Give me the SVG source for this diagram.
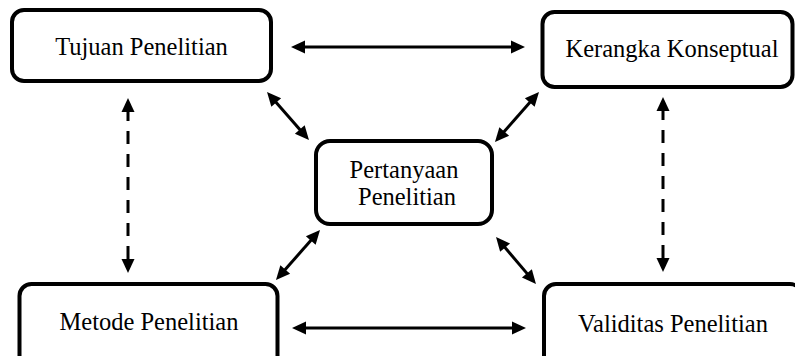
<svg xmlns="http://www.w3.org/2000/svg" width="795" height="356" viewBox="0 0 795 356">
  <style>
    .box { fill: #ffffff; stroke: #000000; stroke-width: 4; }
    .lbl { font-family: 'Liberation Serif', 'Times New Roman', Times, 'DejaVu Serif', serif; font-size: 24.5px; fill: #000000; text-anchor: middle; }
    .conn { stroke: #000000; stroke-width: 3; fill: none; marker-start: url(#ah); marker-end: url(#ah); }
    .dash { stroke-dasharray: 13 10; }
  </style>
  <defs>
    <marker id="ah" markerUnits="userSpaceOnUse" markerWidth="14" markerHeight="13" refX="4" refY="6.5" orient="auto-start-reverse" overflow="visible">
      <path d="M0,0 L14,6.5 L0,13 Z" fill="#000000" stroke="none"/>
    </marker>
  </defs>
  <rect x="0" y="0" width="795" height="356" fill="#ffffff"/>

  <g id="connectors">
    <line class="conn" x1="301" y1="47" x2="515" y2="47"/>
    <line class="conn" x1="302" y1="328" x2="516" y2="328"/>
    <line class="conn dash" x1="128" y1="108" x2="128" y2="263"/>
    <line class="conn dash" x1="663" y1="107" x2="663" y2="262"/>
    <line class="conn" x1="273.6" y1="99.5" x2="302.4" y2="132.5"/>
    <line class="conn" x1="532.4" y1="99.5" x2="501.6" y2="134.5"/>
    <line class="conn" x1="313.4" y1="237.5" x2="282.6" y2="272.5"/>
    <line class="conn" x1="502.5" y1="244.6" x2="529.5" y2="276.4"/>
  </g>

  <g id="tujuan">
    <rect class="box" x="12" y="10" width="259" height="71" rx="12"/>
    <text class="lbl" x="141.5" y="55">Tujuan Penelitian</text>
  </g>
  <g id="kerangka">
    <rect class="box" x="542.5" y="12" width="250" height="75" rx="12"/>
    <text class="lbl" x="672" y="57">Kerangka Konseptual</text>
  </g>
  <g id="pertanyaan">
    <rect class="box" x="316" y="141" width="176" height="83" rx="14"/>
    <text class="lbl" x="404" y="178">Pertanyaan</text>
    <text class="lbl" x="407" y="205">Penelitian</text>
  </g>
  <g id="metode">
    <rect class="box" x="19.5" y="284" width="258" height="90" rx="12"/>
    <text class="lbl" x="149" y="330">Metode Penelitian</text>
  </g>
  <g id="validitas">
    <rect class="box" x="544" y="284" width="258" height="90" rx="12"/>
    <text class="lbl" x="673" y="332">Validitas Penelitian</text>
  </g>
</svg>
